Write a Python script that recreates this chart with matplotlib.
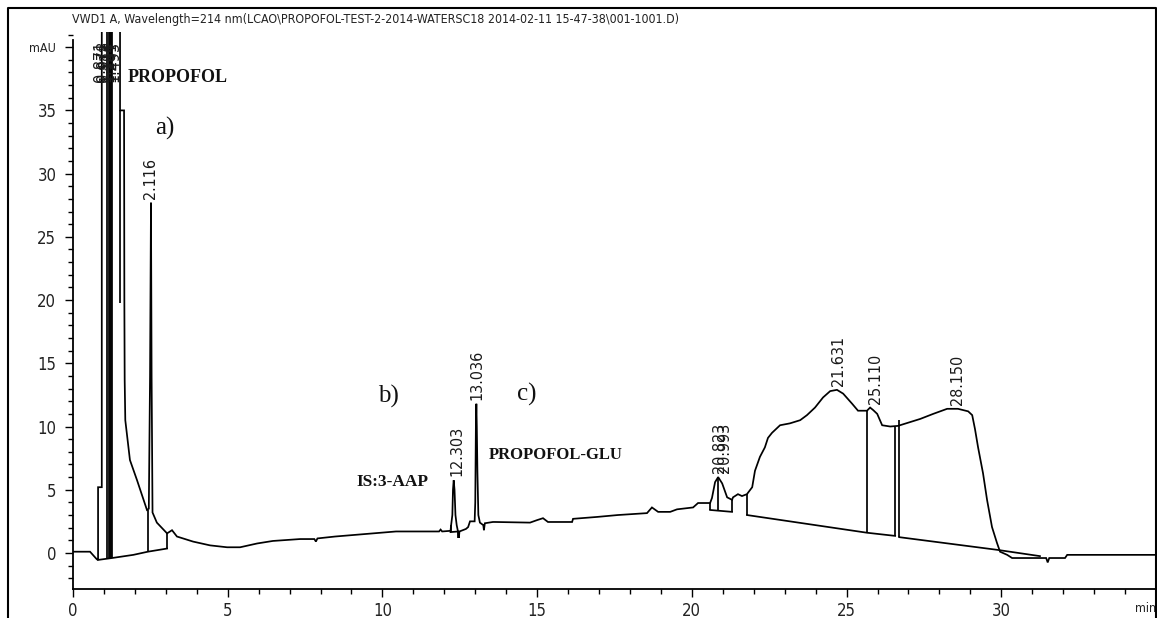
import matplotlib
matplotlib.use("Agg")
import matplotlib.pyplot as plt
from matplotlib.lines import Line2D
from matplotlib.transforms import IdentityTransform
from matplotlib.ticker import MultipleLocator
import numpy as np

# ---------------------------------------------------------------------------
# Detector trace: retention time (min) vs absorbance (mAU).
# Values above the axis top are off-scale and get clipped.
# ---------------------------------------------------------------------------
trace_min = [
    0.00, 0.55, 0.77, 0.81, 0.81, 0.93, 0.93, 1.52, 1.52, 1.65,
    1.66, 1.67, 1.69, 1.84, 2.07, 2.39, 2.45, 2.49, 2.52, 2.54,
    2.57, 2.71, 3.04, 3.20, 3.36, 3.88, 4.43, 4.98, 5.40, 5.95,
    6.46, 7.34, 7.80, 7.85, 7.90, 8.47, 9.47, 10.44, 11.83, 11.88,
    11.93, 12.20, 12.22, 12.26, 12.28, 12.303, 12.33, 12.36, 12.40, 12.45,
    12.47, 12.49, 12.70, 12.77, 12.83, 12.98, 13.00, 13.02, 13.036, 13.05,
    13.07, 13.10, 13.15, 13.26, 13.28, 13.31, 13.57, 13.64, 14.77, 15.00,
    15.19, 15.35, 16.13, 16.16, 16.94, 17.61, 18.55, 18.71, 18.91, 19.30,
    19.52, 20.04, 20.20, 20.59, 20.65, 20.75, 20.85, 20.98, 21.14, 21.30,
    21.33, 21.49, 21.62, 21.78, 21.95, 22.04, 22.20, 22.36, 22.46, 22.59,
    22.85, 23.17, 23.50, 23.72, 23.98, 24.24, 24.47, 24.69, 24.89, 25.18,
    25.37, 25.66, 25.76, 25.86, 25.99, 26.15, 26.41, 26.66, 26.99, 27.38,
    27.80, 28.25, 28.60, 28.93, 29.06, 29.15, 29.25, 29.41, 29.54, 29.70,
    29.86, 29.96, 30.19, 30.35, 31.45, 31.50, 31.55, 32.06, 32.13, 35.00,
]
trace_mau = [
    0.10, 0.10, -0.50, -0.55, 5.20, 5.20, 60.0, 60.0, 35.0, 35.0,
    19.8, 13.7, 10.5, 7.35, 5.75, 3.40, 3.50, 14.0, 27.7, 14.0,
    3.20, 2.40, 1.55, 1.80, 1.30, 0.90, 0.60, 0.45, 0.45, 0.75,
    0.95, 1.10, 1.10, 0.90, 1.15, 1.30, 1.50, 1.70, 1.70, 1.85,
    1.70, 1.75, 2.20, 3.00, 5.00, 5.75, 5.00, 3.00, 2.20, 1.60,
    1.20, 1.70, 1.90, 2.05, 2.50, 2.50, 4.00, 10.0, 11.8, 10.0,
    6.40, 3.00, 2.40, 2.20, 1.80, 2.35, 2.45, 2.45, 2.40, 2.60,
    2.75, 2.45, 2.45, 2.70, 2.85, 3.00, 3.15, 3.60, 3.25, 3.25,
    3.45, 3.60, 3.95, 3.95, 4.35, 5.60, 6.00, 5.50, 4.40, 4.20,
    4.40, 4.65, 4.50, 4.65, 5.20, 6.50, 7.60, 8.35, 9.10, 9.50,
    10.1, 10.25, 10.5, 10.9, 11.5, 12.3, 12.8, 12.9, 12.6, 11.8,
    11.25, 11.25, 11.5, 11.3, 11.0, 10.1, 10.0, 10.05, 10.3, 10.6,
    11.0, 11.4, 11.4, 11.2, 10.9, 9.80, 8.35, 6.30, 4.20, 2.05,
    0.80, 0.10, -0.15, -0.40, -0.40, -0.75, -0.40, -0.40, -0.15, -0.15,
]

# Integration baselines (each a run of time / mAU points)
baseline_min = [
    [0.81, 1.26, 1.95, 2.42, 3.04],
    [12.20, 12.45],
    [20.59, 21.30],
    [21.78, 25.66, 26.57],
    [26.70, 29.86, 31.25],
]
baseline_mau = [
    [-0.55, -0.40, -0.15, 0.10, 0.35],
    [1.65, 1.70],
    [3.40, 3.25],
    [3.00, 1.60, 1.35],
    [1.25, 0.25, -0.25],
]

# Peak start / end drop lines: time, lower and upper mAU
drop_min = [1.10, 1.17, 1.20, 1.23, 1.26, 1.52, 2.42, 3.04, 12.20, 12.45,
            20.59, 20.85, 21.30, 21.78, 25.66, 26.57, 26.70]
drop_low = [-0.45, -0.43, -0.42, -0.41, -0.40, 19.8, 0.10, 0.35, 1.65, 1.20,
            3.40, 3.30, 3.25, 3.00, 1.60, 1.35, 1.25]
drop_high = [60.0, 60.0, 60.0, 60.0, 60.0, 35.0, 3.40, 1.55, 2.20, 1.70,
             3.95, 6.00, 4.20, 4.65, 11.25, 10.0, 10.5]

# Retention-time annotations and where each is written
rt_labels = ["0.871", "0.978", "1.112", "1.184", "1.241", "1.493",
             "2.116", "12.303", "13.036", "20.823", "20.993",
             "21.631", "25.110", "28.150"]
rt_label_min = [0.88, 0.97, 1.06, 1.15, 1.24, 1.33,
                2.49, 12.41, 13.06, 20.88, 21.07,
                24.74, 25.92, 28.57]
OFFSCALE_LABEL_MAU = 36.9

# Axis ticks
x_major = [0, 5, 10, 15, 20, 25, 30, 35]
x_major_labels = ["0", "5", "10", "15", "20", "25", "30", "min"]
y_major = [0, 5, 10, 15, 20, 25, 30, 35, 40]
y_major_labels = ["0", "5", "10", "15", "20", "25", "30", "35", "mAU"]

title = ("VWD1 A, Wavelength=214 nm(LCAO\\PROPOFOL-TEST-2-2014-WATERSC18 "
         "2014-02-11 15-47-38\\001-1001.D)")

NARROW = ["DejaVu Sans"]
SERIF = ["Liberation Serif", "DejaVu Serif"]
INK = "#111111"

W, H = 1157, 618
fig = plt.figure(figsize=(W / 100, H / 100), dpi=100)
fig.patch.set_facecolor("white")

ax_left, ax_right, ax_top, ax_bottom = 73, 1156, 32, 589
ax = fig.add_axes([ax_left / W, (H - ax_bottom) / H,
                   (ax_right - ax_left) / W, (ax_bottom - ax_top) / H])
ax.set_xlim(0, 35)
ax.set_ylim(-2.85, 41.2)

# Trace, baselines and drop lines
ax.plot(trace_min, trace_mau, color="black", lw=1.25, solid_joinstyle="miter")
for bx, by in zip(baseline_min, baseline_mau):
    ax.plot(bx, by, color="black", lw=1.25)
ax.vlines(drop_min, drop_low, drop_high, color="black", lw=1.25)

# Retention-time labels above each apex
tm = np.asarray(trace_min)
ym = np.asarray(trace_mau)
for text, t in zip(rt_labels, rt_label_min):
    win = (tm > t - 0.35) & (tm < t + 0.35)
    apex = ym[win].max()
    y = min(apex, OFFSCALE_LABEL_MAU)
    ax.annotate(text, xy=(t, y), xytext=(0, 4), textcoords="offset pixels",
                rotation=90, ha="center", va="bottom", fontsize=11.5,
                family=["DejaVu Sans"], stretch="condensed",
                color="#1a1a1a", annotation_clip=False)

# Compound names and panel letters
ax.text(1.78, 37.6, "PROPOFOL", family=SERIF, fontsize=13, weight="bold",
        ha="left", va="center", color=INK)
ax.text(9.15, 5.6, "IS:3-AAP", family=SERIF, fontsize=12.5, weight="bold",
        ha="left", va="center", color=INK)
ax.text(13.45, 7.75, "PROPOFOL-GLU", family=SERIF, fontsize=12, weight="bold",
        ha="left", va="center", color=INK)
ax.text(2.97, 33.6, "a)", family=SERIF, fontsize=18, ha="center", va="center",
        color=INK)
ax.text(10.21, 12.4, "b)", family=SERIF, fontsize=18, ha="center", va="center",
        color=INK)
ax.text(14.67, 12.5, "c)", family=SERIF, fontsize=18, ha="center", va="center",
        color=INK)

# Axes styling: only left and bottom axis lines
for side in ("top", "right"):
    ax.spines[side].set_visible(False)
for side in ("left", "bottom"):
    ax.spines[side].set_linewidth(1.3)
ax.spines["left"].set_bounds(-2.85, 40.55)

ax.set_xticks(x_major)
ax.set_xticklabels(x_major_labels)
ax.set_yticks(y_major)
ax.set_yticklabels(y_major_labels)
ax.xaxis.set_minor_locator(MultipleLocator(1))
ax.yaxis.set_minor_locator(MultipleLocator(1))
ax.tick_params(which="major", direction="out", length=6, width=1.0,
               labelsize=12, labelcolor="#222222")
ax.tick_params(which="minor", direction="out", length=3.5, width=1.0)
ax.tick_params(axis="y", which="major", pad=6)
ax.tick_params(axis="x", which="major", pad=3)
for lab in ax.get_xticklabels() + ax.get_yticklabels():
    lab.set_family(NARROW)
    lab.set_stretch("condensed")
xlabs = ax.get_xticklabels()
xlabs[-1].set_fontsize(9)
xlabs[-1].set_horizontalalignment("right")
ax.get_yticklabels()[-1].set_fontsize(9)

# Title line above the plot
fig.text(375 / W, 1 - 20 / H, title, family=NARROW, stretch="condensed",
         fontsize=8.9, ha="center", va="center", color="#222222")

# Outer frame of the report panel
fig.add_artist(Line2D([7.5, 7.5, 1156, 1156], [0, H - 7.5, H - 7.5, 0],
                      transform=IdentityTransform(), color="black", lw=1.5))

fig.savefig("out.png", dpi=100)
